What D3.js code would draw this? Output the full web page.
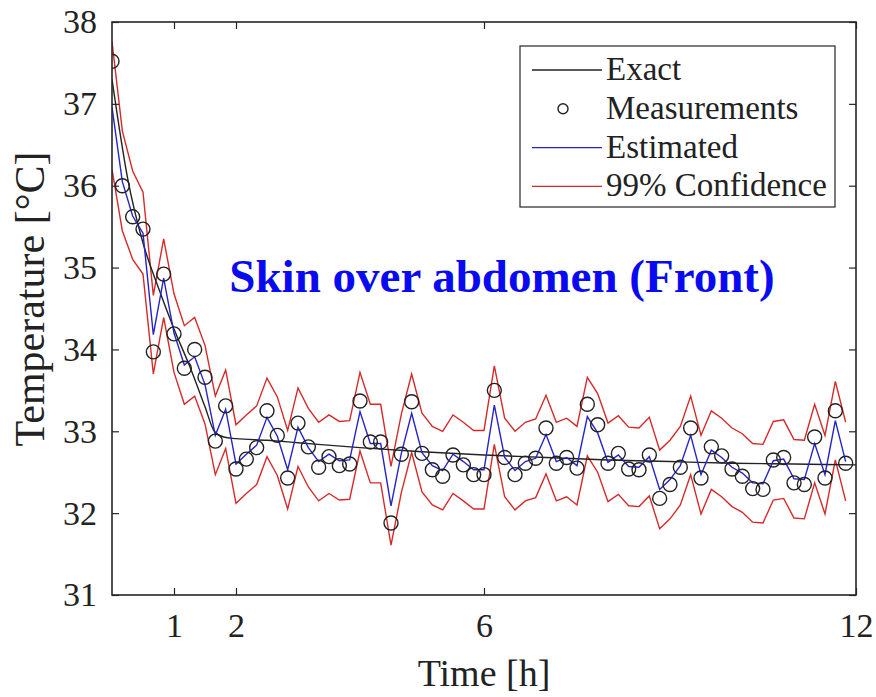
<!DOCTYPE html>
<html>
<head>
<meta charset="utf-8">
<script src="https://cdn.jsdelivr.net/npm/d3@7"></script>
<style>
  body { margin: 0; background: #fff; }
  svg text { font-family: "Liberation Serif", "Times New Roman", serif; }
</style>
</head>
<body>
<div class="graph"></div>
<script>
// measurement index -> time in hours (every 10 min)
const measTimes = d3.range(72).map(i => i / 6);

const measurements = [37.52, 36.00, 35.62, 35.47, 33.97, 34.92, 34.19, 33.77, 34.00, 33.66,
  32.88, 33.31, 32.54, 32.66, 32.80, 33.25, 32.95, 32.43, 33.10, 32.81,
  32.56, 32.69, 32.58, 32.60, 33.37, 32.87, 32.87, 31.88, 32.72, 33.36,
  32.73, 32.53, 32.45, 32.71, 32.59, 32.47, 32.47, 33.50, 32.68, 32.47,
  32.61, 32.67, 33.04, 32.61, 32.68, 32.55, 33.33, 33.08, 32.61, 32.73,
  32.54, 32.53, 32.71, 32.18, 32.35, 32.56, 33.04, 32.43, 32.81, 32.70,
  32.54, 32.45, 32.30, 32.29, 32.65, 32.68, 32.37, 32.35, 32.93, 32.43,
  33.25, 32.61];

const estimated = [36.96, 36.05, 35.63, 35.42, 34.18, 34.87, 34.20, 33.81, 33.91, 33.57,
  32.95, 33.27, 32.60, 32.72, 32.83, 33.17, 32.94, 32.53, 33.05, 32.80,
  32.63, 32.72, 32.64, 32.65, 33.24, 32.85, 32.85, 32.09, 32.73, 33.22,
  32.74, 32.58, 32.52, 32.72, 32.63, 32.53, 32.53, 33.32, 32.68, 32.52,
  32.63, 32.67, 32.96, 32.63, 32.68, 32.58, 33.18, 32.98, 32.62, 32.71,
  32.57, 32.56, 32.69, 32.29, 32.41, 32.58, 32.95, 32.47, 32.77, 32.68,
  32.56, 32.49, 32.37, 32.36, 32.64, 32.66, 32.42, 32.41, 32.85, 32.47,
  33.13, 32.63];

const upper99 = [37.76, 36.67, 36.18, 35.92, 34.66, 35.35, 34.68, 34.29, 34.39, 34.05,
  33.43, 33.75, 33.08, 33.20, 33.31, 33.65, 33.42, 33.01, 33.53, 33.28,
  33.11, 33.20, 33.12, 33.13, 33.72, 33.33, 33.33, 32.57, 33.21, 33.70,
  33.22, 33.06, 33.00, 33.20, 33.11, 33.01, 33.01, 33.80, 33.16, 33.00,
  33.11, 33.15, 33.44, 33.11, 33.16, 33.06, 33.66, 33.46, 33.10, 33.19,
  33.05, 33.04, 33.17, 32.77, 32.89, 33.06, 33.43, 32.95, 33.25, 33.16,
  33.04, 32.97, 32.85, 32.84, 33.12, 33.14, 32.90, 32.89, 33.33, 32.95,
  33.61, 33.11];

const lower99 = [36.20, 35.45, 35.10, 34.92, 33.70, 34.39, 33.72, 33.33, 33.43, 33.09,
  32.47, 32.79, 32.12, 32.24, 32.35, 32.69, 32.46, 32.05, 32.57, 32.32,
  32.15, 32.24, 32.16, 32.17, 32.76, 32.37, 32.37, 31.61, 32.25, 32.74,
  32.26, 32.10, 32.04, 32.24, 32.15, 32.05, 32.05, 32.84, 32.20, 32.04,
  32.15, 32.19, 32.48, 32.15, 32.20, 32.10, 32.70, 32.50, 32.14, 32.23,
  32.09, 32.08, 32.21, 31.81, 31.93, 32.10, 32.47, 31.99, 32.29, 32.20,
  32.08, 32.01, 31.89, 31.88, 32.16, 32.18, 31.94, 31.93, 32.37, 31.99,
  32.65, 32.15];

// exact model curve, read at a few knots
const exactTimes = [0, 0.25, 0.5, 0.75, 1, 1.25, 1.5, 1.65, 1.8, 2, 2.5, 3, 4, 5, 6, 7, 8, 9, 10, 11, 12];
const exactValues = [37.3, 36.1, 35.3, 34.75, 34.25, 33.8, 33.3, 33.0, 32.93, 32.91, 32.89, 32.86,
  32.8, 32.75, 32.71, 32.68, 32.65, 32.63, 32.61, 32.6, 32.59];

const xTicks = [1, 2, 6, 12];
const yTicks = [31, 32, 33, 34, 35, 36, 37, 38];
const legendLabels = ['Exact', 'Measurements', 'Estimated', '99% Confidence'];

const width = 876;
const height = 697;
const margin = { left: 112, right: 20, top: 22, bottom: 102 };

const svg = d3.select('.graph').append('svg')
  .attr('width', width)
  .attr('height', height);

const x = d3.scaleLinear().domain([0, 12]).range([margin.left, width - margin.right]);
const y = d3.scaleLinear().domain([31, 38]).range([height - margin.bottom, margin.top]);

const plotW = width - margin.right - margin.left;
const plotH = height - margin.bottom - margin.top;

svg.append('clipPath').attr('id', 'plotClip')
  .append('rect')
  .attr('x', margin.left).attr('y', margin.top - 30)
  .attr('width', plotW).attr('height', plotH + 30);

const plot = svg.append('g').attr('clip-path', 'url(#plotClip)');

const lineOf = vals => d3.line()
  .x((d, i) => x(measTimes[i]))
  .y(d => y(d))(vals);

const red = '#d62a2a';
const blue = '#2424c8';
const dark = '#222';

// confidence bounds
[upper99, lower99].forEach(vals => {
  plot.append('path')
    .attr('d', lineOf(vals))
    .attr('fill', 'none')
    .attr('stroke', red)
    .attr('stroke-width', 1.4);
});

// exact
const exactLine = d3.line()
  .x((d, i) => x(exactTimes[i]))
  .y(d => y(d))
  .curve(d3.curveMonotoneX);
plot.append('path')
  .attr('d', exactLine(exactValues))
  .attr('fill', 'none')
  .attr('stroke', dark)
  .attr('stroke-width', 1.4);

// estimated
plot.append('path')
  .attr('d', lineOf(estimated))
  .attr('fill', 'none')
  .attr('stroke', blue)
  .attr('stroke-width', 1.4);

// measurements
plot.selectAll('circle.meas')
  .data(measurements)
  .enter().append('circle')
  .attr('class', 'meas')
  .attr('cx', (d, i) => x(measTimes[i]))
  .attr('cy', d => y(d))
  .attr('r', 7)
  .attr('fill', 'none')
  .attr('stroke', dark)
  .attr('stroke-width', 1.4);

// axes: box with inward ticks on all sides
const tickLen = 7;
const axisColor = '#262626';
const tickFont = 34;
const serif = '"Liberation Serif", "Times New Roman", serif';

const styleTicks = g => {
  g.select('.domain').remove();
  g.selectAll('line').attr('stroke', axisColor).attr('stroke-width', 1.2);
  g.selectAll('text')
    .style('font-family', serif)
    .style('font-size', tickFont + 'px')
    .attr('fill', dark);
};

svg.append('g')
  .attr('transform', `translate(0,${y(31)})`)
  .call(d3.axisBottom(x).tickValues(xTicks).tickFormat(d3.format('d'))
    .tickSize(-tickLen).tickPadding(18))
  .call(styleTicks);

svg.append('g')
  .attr('transform', `translate(0,${y(38)})`)
  .call(d3.axisTop(x).tickValues(xTicks).tickSize(-tickLen).tickFormat(''))
  .call(styleTicks);

svg.append('g')
  .attr('transform', `translate(${x(0)},0)`)
  .call(d3.axisLeft(y).tickValues(yTicks).tickFormat(d3.format('d'))
    .tickSize(-tickLen).tickPadding(15))
  .call(styleTicks);

svg.append('g')
  .attr('transform', `translate(${x(12)},0)`)
  .call(d3.axisRight(y).tickValues(yTicks).tickSize(-tickLen).tickFormat(''))
  .call(styleTicks);

svg.append('rect')
  .attr('x', x(0)).attr('y', y(38))
  .attr('width', x(12) - x(0)).attr('height', y(31) - y(38))
  .attr('fill', 'none')
  .attr('stroke', axisColor)
  .attr('stroke-width', 1.6);

// axis titles
svg.append('text')
  .attr('x', 484)
  .attr('y', 686)
  .attr('text-anchor', 'middle')
  .style('font-size', '38px')
  .attr('fill', dark)
  .text('Time [h]');

svg.append('text')
  .attr('transform', `translate(44,299) rotate(-90)`)
  .attr('text-anchor', 'middle')
  .style('font-size', '42px')
  .attr('fill', dark)
  .text('Temperature [°C]');

// in-plot title
svg.append('text')
  .attr('x', 502)
  .attr('y', 292)
  .attr('text-anchor', 'middle')
  .style('font-size', '47px')
  .attr('font-weight', 'bold')
  .attr('fill', '#0a0af0')
  .text('Skin over abdomen (Front)');

// legend
const legend = svg.append('g').attr('transform', 'translate(520,46)');
legend.append('rect')
  .attr('width', 315).attr('height', 161)
  .attr('fill', '#fff')
  .attr('stroke', axisColor)
  .attr('stroke-width', 1.2);

const legendColors = [dark, null, blue, red];
legendLabels.forEach((label, i) => {
  const row = legend.append('g').attr('transform', `translate(0,${24 + i * 38.8})`);
  if (legendColors[i]) {
    row.append('line')
      .attr('x1', 12).attr('x2', 82)
      .attr('stroke', legendColors[i])
      .attr('stroke-width', 1.4);
  } else {
    row.append('circle')
      .attr('cx', 43).attr('r', 5)
      .attr('fill', 'none')
      .attr('stroke', dark)
      .attr('stroke-width', 1.4);
  }
  row.append('text')
    .attr('x', 86)
    .attr('dy', '0.3em')
    .style('font-size', '33px')
    .attr('fill', dark)
    .text(label);
});
</script>
</body>
</html>
